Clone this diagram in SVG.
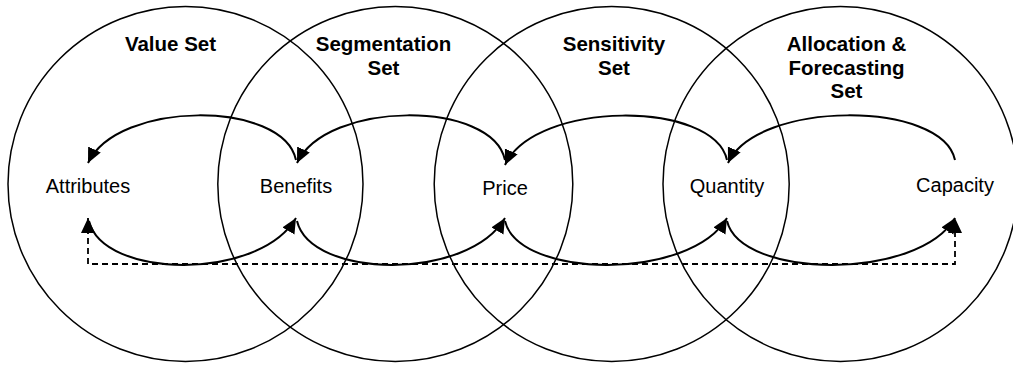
<svg xmlns="http://www.w3.org/2000/svg" width="1013" height="365" viewBox="0 0 1013 365">
  <style>
    .set { fill: none; stroke: #000; stroke-width: 1.5; }
    .title { font-family: "Liberation Sans", Arial, sans-serif; font-size: 20.5px; font-weight: bold; text-anchor: middle; fill: #000; }
    .label { font-family: "Liberation Sans", Arial, sans-serif; font-size: 20px; text-anchor: middle; fill: #000; }
    .link { fill: none; stroke: #000; stroke-width: 2; marker-end: url(#head); }
    .feedback { fill: none; stroke: #000; stroke-width: 1.8; stroke-dasharray: 6 4; marker-start: url(#headStart); marker-end: url(#head); }
  </style>
  <defs>
    <marker id="head" markerUnits="userSpaceOnUse" markerWidth="16" markerHeight="15" refX="15" refY="7" orient="auto">
      <path d="M0,0 L15,7 L0,14 z" fill="#000"/>
    </marker>
    <marker id="headStart" markerUnits="userSpaceOnUse" markerWidth="16" markerHeight="15" refX="15" refY="7" orient="auto-start-reverse">
      <path d="M0,0 L15,7 L0,14 z" fill="#000"/>
    </marker>
  </defs>

  <rect width="1013" height="365" fill="#fff"/>

  <!-- overlapping sets -->
  <g id="value-set">
    <circle class="set" cx="185.5" cy="184" r="177.5"/>
    <text class="title" x="170.5" y="51">Value Set</text>
  </g>
  <g id="segmentation-set">
    <circle class="set" cx="395.3" cy="184" r="177.5"/>
    <text class="title" x="383.5" y="51">Segmentation</text>
    <text class="title" x="383.5" y="75">Set</text>
  </g>
  <g id="sensitivity-set">
    <circle class="set" cx="611.7" cy="184" r="177.5"/>
    <text class="title" x="614" y="51">Sensitivity</text>
    <text class="title" x="614" y="75">Set</text>
  </g>
  <g id="allocation-set">
    <circle class="set" cx="840.5" cy="184" r="177.5"/>
    <text class="title" x="846.5" y="51">Allocation &amp;</text>
    <text class="title" x="846.5" y="75">Forecasting</text>
    <text class="title" x="846.5" y="98">Set</text>
  </g>

  <!-- items -->
  <g id="attributes"><text class="label" x="88" y="193">Attributes</text></g>
  <g id="benefits"><text class="label" x="296" y="193">Benefits</text></g>
  <g id="price"><text class="label" x="505" y="195">Price</text></g>
  <g id="quantity"><text class="label" x="727" y="193">Quantity</text></g>
  <g id="capacity"><text class="label" x="955" y="192">Capacity</text></g>

  <g id="connectors">
    <!-- upper arcs, right to left -->
    <path class="link" d="M296,160 C283,100 118,100 88,163"/>
    <path class="link" d="M505,160 C492,100 327,100 297,163"/>
    <path class="link" d="M727,160 C714,100 535,100 505,165"/>
    <path class="link" d="M955,160 C942,100 757,100 728,163"/>
    <!-- lower arcs, left to right -->
    <path class="link" d="M89,221 C103,279 259,281 296,218"/>
    <path class="link" d="M297,221 C311,279 468,281 505,218"/>
    <path class="link" d="M505,221 C519,279 690,281 727,218"/>
    <path class="link" d="M727,221 C741,279 918,281 955,218"/>
    <!-- dashed feedback loop -->
    <path class="feedback" d="M88,218 V264 H955 V218"/>
  </g>
</svg>
